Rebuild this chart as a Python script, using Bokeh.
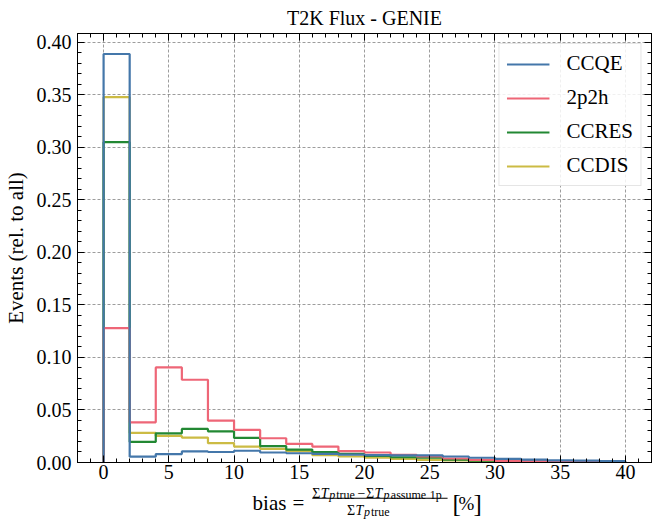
import numpy as np
from bokeh.plotting import figure
from bokeh.layouts import column
from bokeh.models import (Range1d, LinearAxis, Legend, LegendItem, Label, BoxAnnotation,
                          SingleIntervalTicker, NumeralTickFormatter, CustomJSTickFormatter)
from bokeh.embed import file_html
from bokeh.resources import INLINE

# ---------------- data ----------------
bin_edges = [0, 2, 4, 6, 8, 10, 12, 14, 16, 18, 20, 22, 24, 26, 28, 30, 32, 34, 36, 38, 40]
ccqe = [0.389, 0.0055, 0.008, 0.0105, 0.0100, 0.0112, 0.0095, 0.0088, 0.0082, 0.0075,
        0.0070, 0.0068, 0.0068, 0.0057, 0.0045, 0.0034, 0.0027, 0.0021, 0.0017, 0.0013]
two_p2h = [0.128, 0.0383, 0.0905, 0.0788, 0.0399, 0.0310, 0.0231, 0.0177, 0.0152, 0.0108,
           0.0095, 0.0072, 0.0057, 0.0038, 0.0025, 0.0016, 0.0010, 0.0007, 0.0005, 0.0003]
ccres = [0.305, 0.0196, 0.0278, 0.0320, 0.0297, 0.0234, 0.0155, 0.0123, 0.0098, 0.0082,
         0.0062, 0.0050, 0.0045, 0.0028, 0.0018, 0.0012, 0.0008, 0.0005, 0.0004, 0.0002]
ccdis = [0.348, 0.0282, 0.0253, 0.0237, 0.0184, 0.0152, 0.0130, 0.0108, 0.0070, 0.0057,
         0.0045, 0.0035, 0.0025, 0.0020, 0.0013, 0.0008, 0.0005, 0.0003, 0.0002, 0.0001]
series_names = ["CCQE", "2p2h", "CCRES", "CCDIS"]
series_values = [ccqe, two_p2h, ccres, ccdis]
series_colors = ["#4477AA", "#EE6677", "#228833", "#CCBB44"]

title_text = "T2K Flux - GENIE"
y_label = "Events (rel. to all)"

FONT = "Liberation Serif"
MAIN_H = 487
TOTAL_H = 520
W = 652
BORDER_L, BORDER_R = 74, 1
STRIP_SHIFT = 5  # observed offset of the strip below the main plot


def step_outline(edges, vals):
    xs = [edges[0]]
    ys = [0.0]
    for i, v in enumerate(vals):
        xs += [edges[i], edges[i + 1]]
        ys += [v, v]
    xs.append(edges[-1])
    ys.append(0.0)
    return xs, ys


p = figure(width=W, height=MAIN_H, output_backend="svg", toolbar_location=None,
           x_range=Range1d(-2, 42), y_range=Range1d(0, 0.4085),
           min_border_left=BORDER_L, min_border_right=BORDER_R, min_border_top=32, min_border_bottom=25)
p.background_fill_color = "white"
p.border_fill_color = "white"
p.outline_line_color = "black"
p.outline_line_width = 1

p.title.text = title_text
p.title.align = "center"
p.title.text_font = FONT
p.title.text_font_size = "20px"
p.title.text_font_style = "normal"
p.title.text_color = "black"
p.title.standoff = 9

xt = SingleIntervalTicker(interval=5, num_minor_ticks=5)
yt = SingleIntervalTicker(interval=0.05, num_minor_ticks=5)

bottom_axis = p.xaxis[0]
left_axis = p.yaxis[0]
bottom_axis.ticker = xt
left_axis.ticker = yt
p.xgrid[0].ticker = xt
p.ygrid[0].ticker = yt
left_axis.formatter = NumeralTickFormatter(format="0.00")

top_axis = LinearAxis(ticker=xt, formatter=CustomJSTickFormatter(code="return ''"))
right_axis = LinearAxis(ticker=yt, formatter=CustomJSTickFormatter(code="return ''"))
p.add_layout(top_axis, "above")
p.add_layout(right_axis, "right")

for ax in [bottom_axis, left_axis, top_axis, right_axis]:
    ax.major_tick_in = 7
    ax.major_tick_out = 0
    ax.minor_tick_in = 4
    ax.minor_tick_out = 0
    ax.axis_line_color = "black"
    ax.major_tick_line_color = "black"
    ax.minor_tick_line_color = "black"
    ax.major_label_text_font = FONT
    ax.major_label_text_font_size = "20px"
    ax.major_label_text_color = "black"

top_axis.major_label_standoff = 0
right_axis.major_label_standoff = 0
bottom_axis.major_label_standoff = 2
left_axis.major_label_standoff = 6

left_axis.axis_label = y_label
left_axis.axis_label_text_font = FONT
left_axis.axis_label_text_font_size = "21px"
left_axis.axis_label_text_font_style = "normal"
left_axis.axis_label_text_color = "black"
left_axis.axis_label_standoff = 6

for g in [p.xgrid[0], p.ygrid[0]]:
    g.grid_line_color = "#777777"
    g.grid_line_dash = "3 2"
    g.grid_line_width = 0.8
    g.grid_line_alpha = 0.9

renderers = {}
for name, vals, col in reversed(list(zip(series_names, series_values, series_colors))):
    xs, ys = step_outline(bin_edges, vals)
    renderers[name] = p.line(xs, ys, line_color=col, line_width=2.2)

legend = Legend(items=[LegendItem(label=n, renderers=[renderers[n]]) for n in series_names],
                location="top_right")
legend.label_text_font = FONT
legend.label_text_font_size = "21px"
legend.label_text_color = "black"
legend.glyph_width = 43
legend.glyph_height = 20
legend.label_height = 20
legend.label_standoff = 17
legend.spacing = 9
legend.padding = 7
legend.margin = 10
legend.border_line_color = "#cccccc"
legend.border_line_width = 1
legend.background_fill_alpha = 0.85
p.add_layout(legend)

# ---------------- x-axis label: a strip below the plot, in page pixels ----------------
STRIP_H = TOTAL_H - MAIN_H
top_y = MAIN_H + STRIP_SHIFT
lab = figure(width=W, height=STRIP_H, output_backend="svg", toolbar_location=None,
             title_location=None,
             x_range=Range1d(BORDER_L, W - BORDER_R), y_range=Range1d(top_y + STRIP_H, top_y),
             min_border_left=BORDER_L, min_border_right=BORDER_R, min_border_top=0, min_border_bottom=0,
             x_axis_type=None, y_axis_type=None)
lab.outline_line_color = None
lab.background_fill_color = "white"
lab.border_fill_color = "white"
lab.xgrid.visible = False
lab.ygrid.visible = False


def piece(text, X, Y, size, italic=False):
    lab.add_layout(Label(x=X, y=Y, text=text,
                         text_font=FONT, text_font_size=f"{size}px",
                         text_font_style="italic" if italic else "normal",
                         text_color="black", text_align="left", text_baseline="alphabetic"))


piece("bias", 250, 507, 21)
piece("=", 290, 507, 21)
# numerator
NB, SB = 497.5, 499.5
piece("\u03a3", 310, NB, 14)
piece("T", 318.5, NB, 14, italic=True)
piece("p", 327, SB, 12, italic=True)
piece("true", 334, SB, 12)
piece("\u2212", 355.5, NB, 14)
piece("\u03a3", 364, NB, 14)
piece("T", 372.5, NB, 14, italic=True)
piece("p", 381.5, SB, 12, italic=True)
piece("assume", 389, SB, 12)
piece("1p", 428, SB, 12)
# denominator
DB, DSB = 514.5, 516.5
piece("\u03a3", 345, DB, 14)
piece("T", 353.5, DB, 14, italic=True)
piece("p", 362, DSB, 12, italic=True)
piece("true", 369, DSB, 12)
# unit
piece("[", 451, 508, 25)
piece("%", 457, 508, 19)
piece("]", 472, 508, 25)

lab.add_layout(BoxAnnotation(left=310, right=446, top=502.2, bottom=503.3,
                             fill_color="black", fill_alpha=1.0, line_color=None))

layout = column(p, lab, spacing=0)
open("out.html", "w").write(file_html(layout, INLINE))
